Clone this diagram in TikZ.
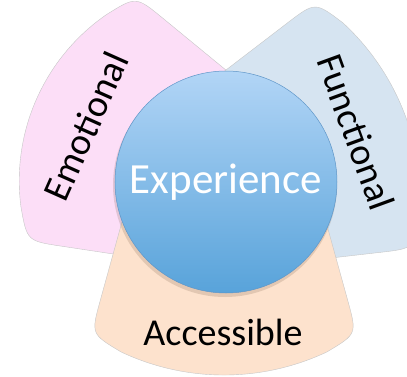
\documentclass[tikz,border=0pt]{standalone}
\usepackage{fontspec}
\setmainfont{Carlito}
\definecolor{emopink}{RGB}{252,222,247}
\definecolor{funblue}{RGB}{214,228,241}
\definecolor{accpeach}{RGB}{253,226,205}
\definecolor{exptop}{RGB}{178,213,246}
\definecolor{expbottom}{RGB}{88,163,218}
\definecolor{expline}{RGB}{95,150,200}
\tikzset{
    petal/.style={draw=black!22, line width=0.4pt,
        insert path={(-91,0) -- (-123.7,-118.3) .. controls (-133,-152) .. (-103,-169.9)
            arc[start angle=244.7, end angle=295.3, radius=241]
            .. controls (133,-152) .. (123.7,-118.3) -- (91,0) -- cycle}},
    petalwide/.style={draw=black!22, line width=0.4pt,
        insert path={(-91,0) -- (-124.7,-122.3) .. controls (-134,-156) .. (-104.9,-175.6)
            arc[start angle=238.7, end angle=301.3, radius=202]
            .. controls (134,-156) .. (124.7,-122.3) -- (91,0) -- cycle}},
    label/.style={font=\fontsize{38}{40}\selectfont, text=black, inner sep=0pt}
}
\begin{document}
\begin{tikzpicture}[x=1pt, y=1pt]
                    \path[use as bounding box, clip] (-224,-194) rectangle (183,182);
                    % the three petals, turned round the centre
                    \draw[fill=emopink, rotate=-114, petalwide];
                    \draw[fill=funblue, rotate=112, petal];
                    \draw[fill=accpeach, petal];

                    \node[label, rotate=66] (emo) at (-138,56) {Emotional};
                    \node[label, rotate=-70] (fun) at (132,50) {Functional};
                    \node[label, anchor=base] (acc) at (-1,-163) {Accessible};

                    % centre
                    \fill[black!60!brown, opacity=0.15] (1,-3) circle (112);
                    \node[circle, minimum size=222, inner sep=0pt, draw=expline, line width=0.5pt,
                          top color=exptop, bottom color=expbottom,
                          text=white, font=\fontsize{43}{45}\selectfont] (exp) at (2,0) {Experience};
                \end{tikzpicture}
\end{document}
